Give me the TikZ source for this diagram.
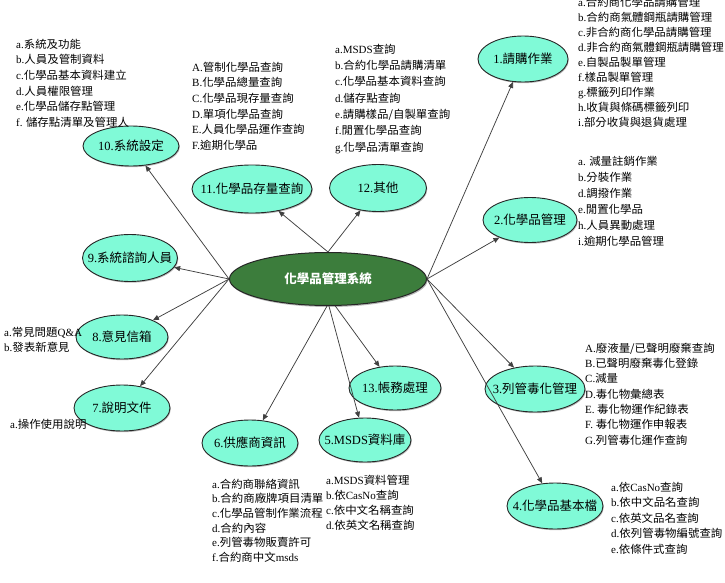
\documentclass[tikz,border=0pt]{standalone}
\usepackage{fontspec}
\setmainfont{Noto Sans CJK TC}
\newfontfamily\lf[FakeStretch=1.04]{Noto Sans CJK TC}
\newfontfamily\ls[FakeStretch=1.0]{Liberation Serif}
\usetikzlibrary{shapes.geometric,arrows.meta,shadows}
\definecolor{mint}{RGB}{128,250,215}
\definecolor{hubgreen}{RGB}{60,125,60}
\newcommand\mklist[5]{%
  \foreach \t [count=\i] in {#5} {\node[lst] (#1-\i) at (#2,{#3+#4*(\i-1)}) {\t};}}
\begin{document}
\begin{tikzpicture}[x=1pt,y=-1pt,
  sub/.style={ellipse, draw=black!85, line width=0.9pt, fill=mint, inner xsep=-14pt, inner ysep=0pt,
    font=\fontsize{12.5}{14}\selectfont,
    drop shadow={shadow xshift=0.8pt,shadow yshift=-1.2pt,opacity=0.55}},
  hub/.style={ellipse, draw=black!85, line width=1pt, fill=hubgreen, text=white, inner sep=0pt,
    font=\fontsize{12.5}{14}\selectfont\bfseries, minimum width=197pt, minimum height=53pt,
    drop shadow={shadow xshift=1pt,shadow yshift=-1.5pt,opacity=0.55}},
  arr/.style={draw=black!75, line width=0.75pt, -{Triangle[length=6pt,width=5pt]}},
  lst/.style={anchor=west, inner sep=0pt, font=\lf\fontsize{11}{12}\selectfont,
    text height=8.5pt, text depth=2pt}]
\useasboundingbox (0,0) rectangle (725,583);

\node[hub] (c) at (328,279) {化學品管理系統};

\node[sub,minimum width=90pt,minimum height=46pt] (n1) at (523,59) {{\ls 1.}請購作業};
\node[sub,minimum width=94pt,minimum height=45pt] (n2) at (530,220) {{\ls 2.}化學品管理};
\node[sub,minimum width=100pt,minimum height=46pt] (n3) at (535,389) {{\ls 3.}列管毒化管理};
\node[sub,minimum width=96pt,minimum height=46pt] (n4) at (555,506) {{\ls 4.}化學品基本檔};
\node[sub,minimum width=92pt,minimum height=44pt] (n5) at (365,440) {{\ls 5.MSDS}資料庫};
\node[sub,minimum width=96pt,minimum height=46pt] (n6) at (250,443) {{\ls 6.}供應商資訊};
\node[sub,minimum width=96pt,minimum height=46pt] (n7) at (122,408) {{\ls 7.}說明文件};
\node[sub,minimum width=92pt,minimum height=44pt] (n8) at (122,337) {{\ls 8.}意見信箱};
\node[sub,minimum width=95pt,minimum height=47pt] (n9) at (130,258) {{\ls 9.}系統諮詢人員};
\node[sub,minimum width=96pt,minimum height=40pt] (n10) at (131,146) {{\ls 10.}系統設定};
\node[sub,minimum width=120pt,minimum height=48pt] (n11) at (252,189) {{\ls 11.}化學品存量查詢};
\node[sub,minimum width=97pt,minimum height=47pt] (n12) at (378,188) {{\ls 12.}其他};
\node[sub,minimum width=92pt,minimum height=44pt] (n13) at (395,388) {{\ls 13.}帳務處理};

\draw[arr] (c.east) -- (n1);
\draw[arr] (c.east) -- (n2);
\draw[arr] (c.east) -- (n3);
\draw[arr] (c.east) -- (n4);
\draw[arr] (c.272) -- (n5);
\draw[arr] (c.268) -- (n6);
\draw[arr] (c.west) -- (n7);
\draw[arr] (c.west) -- (n8);
\draw[arr] (c.west) -- (n9);
\draw[arr] (c.west) -- (n10);
\draw[arr] (c.north) -- (n11);
\draw[arr] (c.north) -- (n12);
\draw[arr] (c.285) -- (n13);

\mklist{L1}{578}{3}{15}{{\ls a.}合約商化學品請購管理,{\ls b.}合約商氣體鋼瓶請購管理,{\ls c.}非合約商化學品請購管理,{\ls d.}非合約商氣體鋼瓶請購管理,{\ls e.}自製品製單管理,{\ls f.}樣品製單管理,{\ls g.}標籤列印作業,{\ls h.}收貨與條碼標籤列印,{\ls i.}部分收貨與退貨處理}
\mklist{L2}{578}{162}{16}{{\ls a.} 減量註銷作業,{\ls b.}分裝作業,{\ls d.}調撥作業,{\ls e.}閒置化學品,{\ls h.}人員異動處理,{\ls i.}逾期化學品管理}
\mklist{L3}{585}{349}{15.3}{{\ls A.}廢液量/已聲明廢棄查詢,{\ls B.}已聲明廢棄毒化登錄,{\ls C.}減量,{\ls D.}毒化物彙總表,{\ls E.} 毒化物運作紀錄表,{\ls F.} 毒化物運作申報表,{\ls G.}列管毒化運作查詢}
\mklist{L4}{611}{488}{15.5}{{\ls a.}依{\ls CasNo}查詢,{\ls b.}依中文品名查詢,{\ls c.}依英文品名查詢,{\ls d.}依列管毒物編號查詢,{\ls e.}依條件式查詢}
\mklist{L5}{326}{481}{15}{{\ls a.MSDS}資料管理,{\ls b.}依{\ls CasNo}查詢,{\ls c.}依中文名稱查詢,{\ls d.}依英文名稱查詢}
\mklist{L6}{212}{485}{14.6}{{\ls a.}合約商聯絡資訊,{\ls b.}合約商廠牌項目清單,{\ls c.}化學品管制作業流程,{\ls d.}合約內容,{\ls e.}列管毒物販賣許可,{\ls f.}合約商中文{\ls msds}}
\mklist{L7}{10}{425}{15}{{\ls a.}操作使用說明}
\mklist{L8}{4}{333}{15}{{\ls a.}常見問題{\ls Q\&A},{\ls b.}發表新意見}
\mklist{L10}{16}{45}{15.6}{{\ls a.}系統及功能,{\ls b.}人員及管制資料,{\ls c.}化學品基本資料建立,{\ls d.}人員權限管理,{\ls e.}化學品儲存點管理,{\ls f.} 儲存點清單及管理人}
\mklist{L11}{192}{68}{15.6}{{\ls A.}管制化學品查詢,{\ls B.}化學品總量查詢,{\ls C.}化學品現存量查詢,{\ls D.}單項化學品查詢,{\ls E.}人員化學品運作查詢,{\ls F.}逾期化學品}
\mklist{L12}{335}{50}{16.3}{{\ls a.MSDS}查詢,{\ls b.}合約化學品請購清單,{\ls c.}化學品基本資料查詢,{\ls d.}儲存點查詢,{\ls e.}請購樣品/自製單查詢,{\ls f.}閒置化學品查詢,{\ls g.}化學品清單查詢}
\end{tikzpicture}
\end{document}
